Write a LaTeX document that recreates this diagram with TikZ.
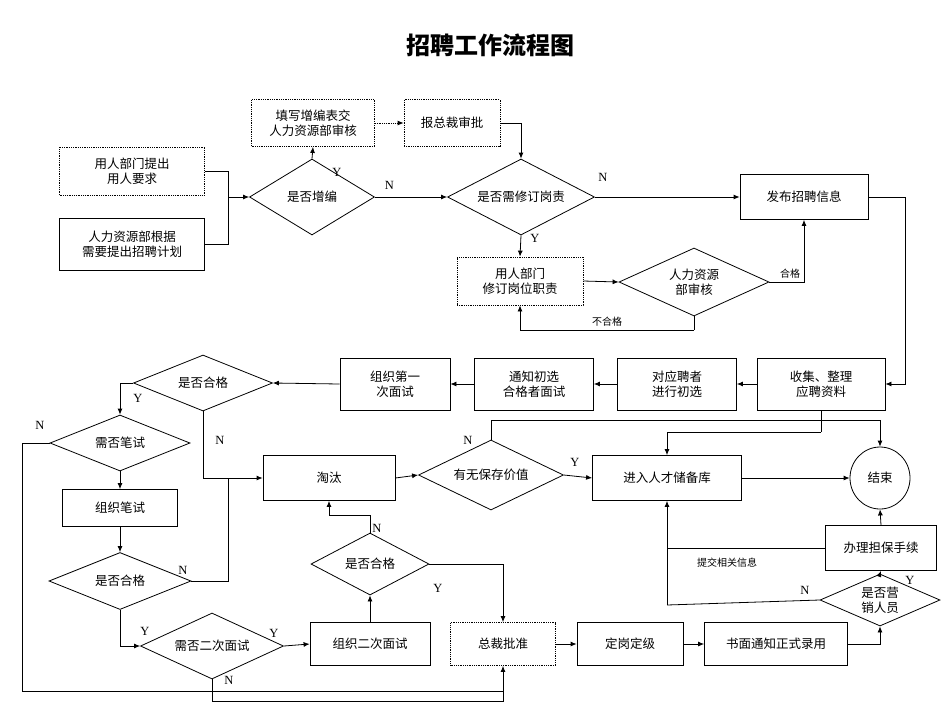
\documentclass[tikz,border=0pt]{standalone}
\usepackage{fontspec}
\setmainfont{Liberation Serif}
\newfontfamily\cjk{Noto Sans CJK SC}
\usetikzlibrary{shapes.geometric,arrows.meta}
\begin{document}
\begin{tikzpicture}[x=1pt,y=-1pt,font=\cjk\fontsize{12.5}{15}\selectfont,
 box/.style={draw,thick,align=center,inner sep=0pt},
 dbox/.style={box,densely dotted},
 dia/.style={draw,thick,diamond,aspect=2.1,align=center,inner sep=0pt},
 ln/.style={draw,line width=0.8pt},
 ar/.style={ln,-{Latex[length=6pt,width=5pt]}},
 lab/.style={font=\fontsize{12.5}{14}\selectfont},
 sl/.style={font=\cjk\fontsize{10}{12}\selectfont}]
\useasboundingbox (0,0) rectangle (950,713);
\node[font=\cjk\bfseries\fontsize{24}{28}\selectfont] (title) at (490,45) {招聘工作流程图};
\newcommand\bx[6]{\node[#1,minimum width=#4,minimum height=#5] (#2) at #3 {#6};}
\bx{dbox}{A}{(132,171)}{145pt}{48pt}{用人部门提出\\用人要求}
\bx{box}{B}{(132,244)}{145pt}{52pt}{人力资源部根据\\需要提出招聘计划}
\bx{dia}{D1}{(312,197)}{125pt}{76pt}{是否增编}
\bx{dbox}{C}{(313,123)}{123pt}{47pt}{填写增编表交\\人力资源部审核}
\bx{dbox}{E}{(452,123)}{96pt}{47pt}{报总裁审批}
\bx{dia}{D2}{(521,197)}{147pt}{76pt}{是否需修订岗责}
\bx{box}{F}{(804,197)}{128pt}{45pt}{发布招聘信息}
\bx{dbox}{G}{(520,281)}{126pt}{48pt}{用人部门\\修订岗位职责}
\bx{dia}{D3}{(694,282)}{150pt}{68pt}{人力资源\\部审核}
\bx{box}{H}{(821,384)}{128pt}{52pt}{收集、整理\\应聘资料}
\bx{box}{I}{(677,384)}{119pt}{52pt}{对应聘者\\进行初选}
\bx{box}{J}{(534,384)}{119pt}{52pt}{通知初选\\合格者面试}
\bx{box}{K}{(395,384)}{110pt}{52pt}{组织第一\\次面试}
\bx{dia}{D4}{(203,383)}{139pt}{56pt}{是否合格}
\bx{dia}{D5}{(120,443)}{140pt}{56pt}{需否笔试}
\bx{box}{M}{(120,508)}{115pt}{37pt}{组织笔试}
\bx{dia}{D8}{(120,581)}{142pt}{57pt}{是否合格}
\bx{dia}{D9}{(212,646)}{143pt}{66pt}{需否二次面试}
\bx{box}{O}{(370,644)}{120pt}{43pt}{组织二次面试}
\bx{dia}{D10}{(370,564)}{118pt}{62pt}{是否合格}
\bx{box}{Tao}{(329,478)}{132pt}{45pt}{淘汰}
\bx{dia}{D6}{(491,475)}{145pt}{70pt}{有无保存价值}
\bx{box}{R}{(667,478)}{149pt}{45pt}{进入人才储备库}
\node[draw,thick,ellipse,minimum width=60pt,minimum height=62pt] (End) at (880,478) {结束};
\bx{box}{S}{(881,548)}{111pt}{45pt}{办理担保手续}
\bx{dia}{D7}{(880,600)}{120pt}{52pt}{是否营\\销人员}
\bx{dbox}{P}{(503,644)}{105pt}{43pt}{总裁批准}
\bx{box}{Q}{(630,644)}{106pt}{43pt}{定岗定级}
\bx{box}{T}{(776,644)}{143pt}{43pt}{书面通知正式录用}
% top
\coordinate (j1) at (228,197);
\draw[ln] (A.east) -| (j1);
\draw[ln] (B.east) -| (j1);
\draw[ar] (j1) -- (D1.west);
\draw[ar] (D1.north) -- (C.south);
\node[lab] at (337,172) {Y};
\draw[ar,densely dotted] (C.east) -- (E.west);
\draw[ar] (E.east) -| (D2.north);
\draw[ar] (D1.east) -- node[lab,above=4pt,pos=0.2]{N} (D2.west);
\draw[ar] (D2.east) -- (F.west);
\node[lab] at (603,177) {N};
\draw[ar] (D2.south) -- (G.north);
\node[lab] at (535,238) {Y};
\draw[ar] (G.east) -- (D3.west);
\draw[ar] (D3.east) -| node[sl,pos=0.3,above]{合格} (F.south);
\coordinate (d3b) at (694,330);
\draw[ln] (D3.south) -- (d3b);
\draw[ar] (d3b) -| node[sl,pos=0.25,above]{不合格} (G.south);
\coordinate (fr) at (905,197);
\draw[ar] (F.east) -- (fr) |- (H.east);
% middle row
\draw[ar] (H.west) -- (I.east);
\draw[ar] (I.west) -- (J.east);
\draw[ar] (J.west) -- (K.east);
\draw[ar] (K.west) -- (D4.east);
\draw[ar] (D4.west) -| (D5.north);
\node[lab] at (138,398) {Y};
\draw[ar] (D4.south) |- (Tao.west);
\node[lab] at (220,440) {N};
\draw[ar] (D5.south) -- (M.north);
\draw[ar] (M.south) -- (D8.north);
\draw[ln] (D8.east) -- (228,581) -- (228,478);
\node[lab] at (183,570) {N};
\draw[ar] (D8.south) |- (D9.west);
\node[lab] at (145,631) {Y};
\draw[ar] (D9.east) -- (O.west);
\node[lab] at (274,633) {Y};
\draw[ar] (O.north) -- (D10.south);
\coordinate (d10t) at (370,515);
\draw[ln] (D10.north) -- (d10t);
\draw[ar] (d10t) -| (Tao.south);
\node[lab] at (377,528) {N};
\draw[ar] (D10.east) -| (P.north);
\node[lab] at (438,588) {Y};
\coordinate (d9b) at (212,701);
\draw[ln] (D9.south) -- (d9b);
\draw[ar] (d9b) -| (P.south);
\node[lab] at (229,680) {N};
\coordinate (d5l) at (22,443);
\draw[ln] (D5.west) -- (d5l) |- (503,691);
\node[lab] at (40,425) {N};
\draw[ar] (Tao.east) -- (D6.west);
\draw[ar] (D6.east) -- (R.west);
\node[lab] at (575,462) {Y};
\coordinate (d6t) at (491,420);
\draw[ln] (D6.north) -- (d6t);
\draw[ar] (d6t) -| (End.north);
\node[lab] at (468,440) {N};
\coordinate (hb) at (821,432);
\draw[ln] (H.south) -- (hb);
\draw[ar] (hb) -| (R.north);
\draw[ar] (R.east) -- (End.west);
\draw[ar] (S.north) -- (End.south);
\draw[ln] (S.west) -- (667,548);
\node[sl] at (727,563) {提交相关信息};
\coordinate (d7l) at (667,605);
\draw[ln] (D7.west) -- (d7l);
\draw[ar] (d7l) -- (R.south);
\node[lab] at (805,590) {N};
\draw[ar] (D7.north) -- (S.south);
\node[lab] at (910,580) {Y};
\draw[ar] (P.east) -- (Q.west);
\draw[ar] (Q.east) -- (T.west);
\draw[ar] (T.east) -| (D7.south);
\end{tikzpicture}
\end{document}
